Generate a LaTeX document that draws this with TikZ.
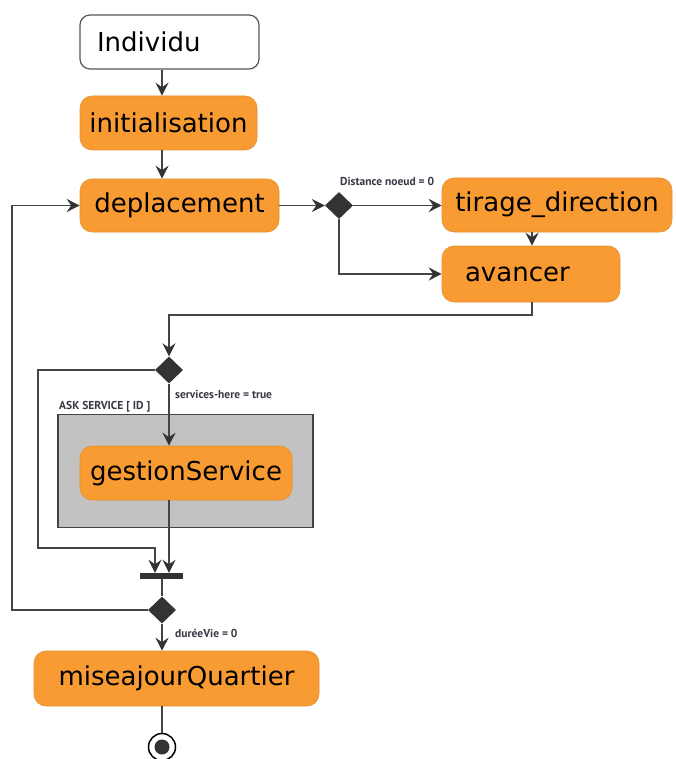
\documentclass[tikz,border=0pt]{standalone}
\usepackage{fontspec}
\setmainfont{DejaVu Sans}
\newfontfamily\lblfont{PT Sans}
\usetikzlibrary{arrows.meta,shapes.geometric}
\definecolor{orangefill}{HTML}{F99B33}
\definecolor{linec}{HTML}{444444}
\definecolor{darkc}{HTML}{333333}
\definecolor{grayfill}{HTML}{C2C2C2}
\definecolor{lblc}{HTML}{383844}
\begin{document}
\begin{tikzpicture}[x=1pt,y=-1pt,
  act/.style={rounded corners=12pt, fill=orangefill, draw=orangefill!92!black, line width=0.6pt, inner sep=0pt, font=\fontsize{26}{30}\selectfont, text=black},
  conn/.style={draw=linec, line width=1.5pt, -{Stealth[length=13pt,width=13pt,inset=4.5pt,color=darkc]}},
  plain/.style={draw=linec, line width=1.5pt},
  dec/.style={diamond, fill=darkc, inner sep=0pt, minimum width=28pt, minimum height=27pt},
  lbl/.style={font=\lblfont\bfseries\fontsize{11.5}{13}\selectfont, text=lblc, anchor=west, inner sep=0pt}
]
\useasboundingbox (0,0) rectangle (675,759);

% group box
\node[draw=linec, fill=grayfill, line width=1.2pt, minimum width=255pt, minimum height=113pt, inner sep=0pt] (grp) at (185.5,471) {};

% nodes
\node[rounded corners=10pt, draw=linec!90, fill=white, line width=1.2pt, minimum height=54pt, text width=145pt, inner xsep=17pt, inner ysep=0pt, align=left, font=\fontsize{26}{30}\selectfont] (ind) at (169.5,42) {Individu};
\node[act, minimum width=177pt, minimum height=54pt] (init) at (168.5,123) {initialisation};
\node[act, minimum width=199pt, minimum height=53pt] (dep) at (179.5,205.5) {deplacement};
\node[dec] (d1) at (339,205.5) {};
\node[act, minimum width=230pt, minimum height=54pt] (tir) at (557,205) {tirage\_direction};
\node[act, minimum height=56pt, text width=132pt, inner xsep=23pt, align=left] (av) at (531,274) {avancer};
\node[dec] (d2) at (169,370) {};
\node[act, minimum width=212pt, minimum height=54pt] (gs) at (186,473) {gestionService};
\node[fill=darkc, minimum width=43pt, minimum height=6pt, inner sep=0pt] (bar) at (161.5,576) {};
\node[dec] (d3) at (162,610) {};
\node[act, minimum width=285pt, minimum height=55pt] (mq) at (176.5,678.5) {miseajourQuartier};
\node[circle, draw=black, line width=1.5pt, fill=white, minimum size=27pt, inner sep=0pt] (fin) at (162,747) {};
\node[circle, fill=darkc, minimum size=15pt, inner sep=0pt] (findot) at (fin.center) {};

% labels
\node[lbl] (ldist) at (340,181) {Distance noeud = 0};
\node[lbl] (lserv) at (175,394) {services-here = true};
\node[lbl] (lask) at (59,407) {ASK SERVICE [ ID ]};
\node[lbl] (lduree) at (175,633) {duréeVie = 0};

% helper coordinates
\coordinate (colA) at (162,0);
\coordinate (colB) at (532,0);
\coordinate (colC) at (155,0);
\coordinate (turn) at (0,315);
\coordinate (l1) at (38,548);
\coordinate (l2) at (12,0);

% connectors
\draw[conn] (ind.south -| colA) -- (init.north -| colA);
\draw[conn] (init.south -| colA) -- (dep.north -| colA);
\draw[conn] (dep.east) -- (d1.west);
\draw[conn] (d1.east) -- (d1.east -| tir.west);
\draw[conn] (d1.south) |- (av.west);
\draw[conn] (tir.south -| colB) -- (av.north -| colB);
\draw[conn] (av.south -| colB) -- (colB |- turn) -| (d2.north);
\draw[conn] (d2.south) -- (gs.north -| d2.south);
\draw[conn] (d2.west) -| (l1) -| (bar.north -| colC);
\draw[conn] (gs.south -| d2.south) -- (bar.north -| d2.south);
\draw[plain] (bar.south -| d3.north) -- (d3.north);
\draw[conn] (d3.west) -- (d3.west -| l2) |- (dep.west);
\draw[conn] (d3.south) -- (mq.north -| d3.south);
\draw[plain] (mq.south -| fin.north) -- (fin.north);
\end{tikzpicture}
\end{document}
